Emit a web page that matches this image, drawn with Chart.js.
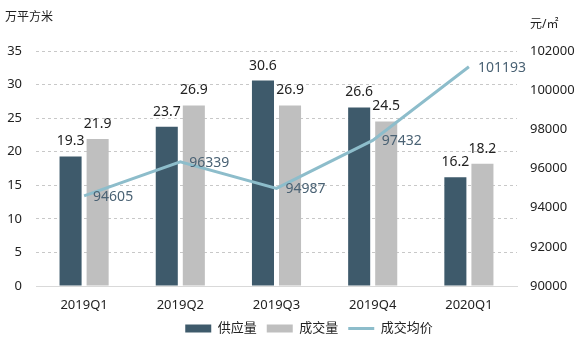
<!DOCTYPE html>
<html>
<head>
<meta charset="utf-8">
<script src="https://cdn.jsdelivr.net/npm/chart.js@4.4.1/dist/chart.umd.min.js"></script>
<style>
  body { margin: 0; background: #fff; }
  #wrap { width: 584px; height: 360px; }
</style>
</head>
<body>
<div id="wrap"><canvas id="chart-1"></canvas></div>
<script>
const quarters = ['2019Q1', '2019Q2', '2019Q3', '2019Q4', '2020Q1'];
const supply = [19.3, 23.7, 30.6, 26.6, 16.2];
const deals = [21.9, 26.9, 26.9, 24.5, 18.2];
const avgPrice = [94605, 96339, 94987, 97432, 101193];

const fontFamily = "'Segoe UI', 'Noto Sans', 'Noto Sans CJK SC', sans-serif";
const chartOne = document.getElementById('chart-1');

// value labels + unit captions
const labelPlugin = {
  id: 'labels',
  afterLayout(chart) {
    // legend sits a bit right of centre in the original
    chart.legend.left += 34;
  },
  afterDatasetsDraw(chart) {
    const ctx = chart.ctx;
    ctx.save();
    ctx.font = '14px ' + fontFamily;
    chart.data.datasets.forEach((ds, i) => {
      const meta = chart.getDatasetMeta(i);
      meta.data.forEach((el, j) => {
        if (ds.type === 'line') {
          ctx.fillStyle = '#4a6274';
          ctx.textAlign = 'left';
          ctx.textBaseline = 'middle';
          ctx.fillText(String(ds.data[j]), el.x + 9, el.y + 1);
        } else {
          ctx.fillStyle = '#222';
          ctx.textAlign = 'center';
          ctx.textBaseline = 'middle';
          ctx.fillText(ds.data[j].toFixed(1), el.x, el.y - 15);
        }
      });
    });
    ctx.font = '12px ' + fontFamily;
    ctx.fillStyle = '#222';
    ctx.textAlign = 'left';
    ctx.textBaseline = 'middle';
    ctx.fillText('万平方米', 5, 18);
    ctx.fillText('元/㎡', 530, 25);
    ctx.restore();
  }
};

new Chart(chartOne, {
  type: 'bar',
  plugins: [labelPlugin],
  data: {
    labels: quarters,
    datasets: [{
      label: '供应量',
      data: supply,
      backgroundColor: '#3e5a6b',
      yAxisID: 'y',
      order: 1,
      categoryPercentage: 0.5625,
      barPercentage: 0.815
    }, {
      label: '成交量',
      data: deals,
      backgroundColor: '#bfbfbf',
      yAxisID: 'y',
      order: 1,
      categoryPercentage: 0.5625,
      barPercentage: 0.815
    }, {
      type: 'line',
      label: '成交均价',
      data: avgPrice,
      borderColor: '#8dbdcb',
      backgroundColor: '#8dbdcb',
      borderWidth: 3,
      pointRadius: 0,
      tension: 0,
      yAxisID: 'y1',
      order: 0
    }]
  },
  options: {
    responsive: true,
    maintainAspectRatio: false,
    animation: false,
    layout: { padding: { top: 51, left: 0, right: 0, bottom: 15 } },
    plugins: {
      tooltip: { enabled: false },
      legend: {
        position: 'bottom',
        align: 'center',
        labels: {
          font: { size: 13, family: fontFamily },
          color: '#222',
          usePointStyle: true,
          pointStyleWidth: 26,
          boxHeight: 8,
          padding: 10,
          sort: (a, b) => a.datasetIndex - b.datasetIndex,
          generateLabels(chart) {
            return chart.data.datasets.map((ds, i) => ({
              text: ds.label,
              datasetIndex: i,
              fillStyle: ds.backgroundColor,
              strokeStyle: ds.type === 'line' ? ds.borderColor : ds.backgroundColor,
              lineWidth: ds.type === 'line' ? 3 : 0,
              pointStyle: ds.type === 'line' ? 'line' : 'rect',
              fontColor: '#222',
              hidden: false
            }));
          }
        }
      }
    },
    scales: {
      x: {
        grid: { display: false },
        border: { color: '#d9d9d9' },
        ticks: { color: '#222', font: { size: 13, family: fontFamily }, padding: 3 },
        afterFit: s => { s.height = 26; }
      },
      y: {
        position: 'left',
        min: 0, max: 35,
        ticks: { stepSize: 5, color: '#222', font: { size: 13, family: fontFamily }, padding: 14 },
        grid: { color: '#c8c8c8', drawTicks: false },
        border: { display: false, dash: [3, 3] },
        afterFit: s => { s.width = 36; }
      },
      y1: {
        position: 'right',
        min: 90000, max: 102000,
        ticks: {
          stepSize: 2000, color: '#222', font: { size: 13, family: fontFamily }, padding: 13,
          callback: v => String(v)
        },
        grid: { display: false, drawTicks: false },
        border: { display: false },
        afterFit: s => { s.width = 67; }
      }
    }
  }
});
</script>
</body>
</html>
